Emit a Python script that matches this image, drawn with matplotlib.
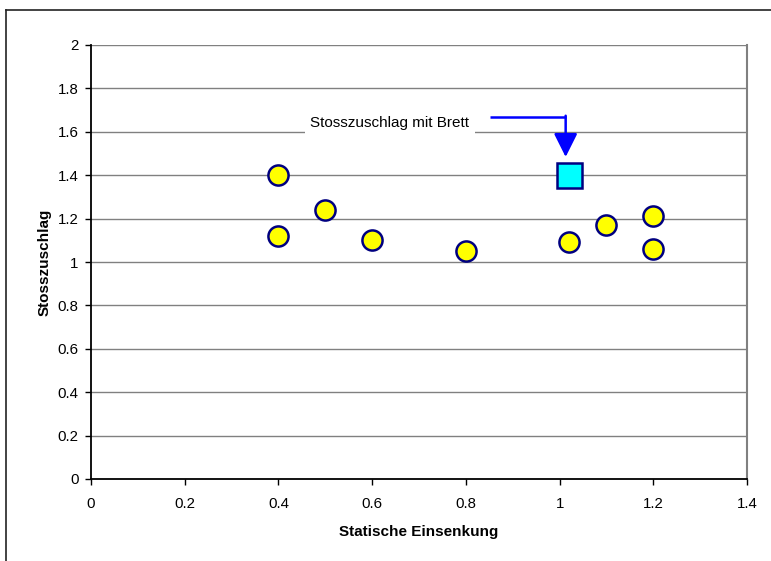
import matplotlib
matplotlib.use("Agg")
import matplotlib.pyplot as plt
from matplotlib.lines import Line2D

plt.rcParams['font.family'] = ['Liberation Sans', 'DejaVu Sans']

# Measured points (static deflection vs. impact factor)
einsenkung = [0.4, 0.4, 0.5, 0.6, 0.8, 1.02, 1.1, 1.2, 1.2]
stosszuschlag = [1.40, 1.12, 1.24, 1.10, 1.05, 1.09, 1.17, 1.21, 1.06]

# Point with board
brett_x = [1.02]
brett_y = [1.40]

x_ticks = [0, 0.2, 0.4, 0.6, 0.8, 1, 1.2, 1.4]
y_ticks = [0, 0.2, 0.4, 0.6, 0.8, 1, 1.2, 1.4, 1.6, 1.8, 2]
x_ticklabels = ['0', '0.2', '0.4', '0.6', '0.8', '1', '1.2', '1.4']
y_ticklabels = ['0', '0.2', '0.4', '0.6', '0.8', '1', '1.2', '1.4', '1.6', '1.8', '2']

fig = plt.figure(figsize=(7.71, 5.61), dpi=100)
ax = fig.add_axes([91/771, 1 - 479/561, (747 - 91)/771, (479 - 45)/561])

ax.set_xlim(0, 1.4)
ax.set_ylim(0, 2)
ax.set_xticks(x_ticks)
ax.set_xticklabels(x_ticklabels)
ax.set_yticks(y_ticks)
ax.set_yticklabels(y_ticklabels)

for y in y_ticks[1:]:
    ax.axhline(y, color='#808080', lw=1.0, zorder=1)

for side in ['left', 'bottom']:
    ax.spines[side].set_color('black')
    ax.spines[side].set_linewidth(1.3)
ax.spines['top'].set_visible(False)
ax.spines['right'].set_color('#808080')
ax.spines['right'].set_linewidth(1.5)

ax.tick_params(axis='both', direction='out', length=4, width=1, colors='black',
               labelsize=10.8, labelcolor='black')
ax.tick_params(axis='x', pad=9)
ax.tick_params(axis='y', pad=5)

ax.plot(einsenkung, stosszuschlag, linestyle='none', marker='o', markersize=14.5,
        markerfacecolor='#FFFF00', markeredgecolor='#000080', markeredgewidth=1.8,
        zorder=4, clip_on=False)
ax.plot(brett_x, brett_y, linestyle='none', marker='s', markersize=18,
        markerfacecolor='#00FFFF', markeredgecolor='#000080', markeredgewidth=1.8,
        zorder=4, clip_on=False)

ax.set_xlabel('Statische Einsenkung', fontsize=11, fontweight='bold', labelpad=10)
ax.set_ylabel('Stosszuschlag', fontsize=11, fontweight='bold', labelpad=4.5)

# Label with arrow pointing to the board point
ax.text(0.638, 1.64, 'Stosszuschlag mit Brett', fontsize=11, ha='center', va='center',
        bbox=dict(facecolor='white', edgecolor='none', pad=4), zorder=3)
ax.plot([0.851, 1.013], [1.67, 1.67], color='#0000FF', lw=1.8, zorder=3,
        solid_capstyle='butt')
ax.annotate('', xy=(1.013, 1.484), xytext=(1.013, 1.674),
            arrowprops=dict(arrowstyle='-|>,head_length=0.72,head_width=0.36',
                            color='#0000FF', lw=1.8, shrinkA=0, shrinkB=0,
                            mutation_scale=20),
            zorder=3)

# Chart frame
fx = 6 / 771
fy = 1 - 10 / 561
fig.add_artist(Line2D([fx, fx], [0, fy], transform=fig.transFigure, color='#222222', lw=1.2))
fig.add_artist(Line2D([fx, 1], [fy, fy], transform=fig.transFigure, color='#222222', lw=1.2))

fig.savefig('out.png', dpi=100, facecolor='white')
